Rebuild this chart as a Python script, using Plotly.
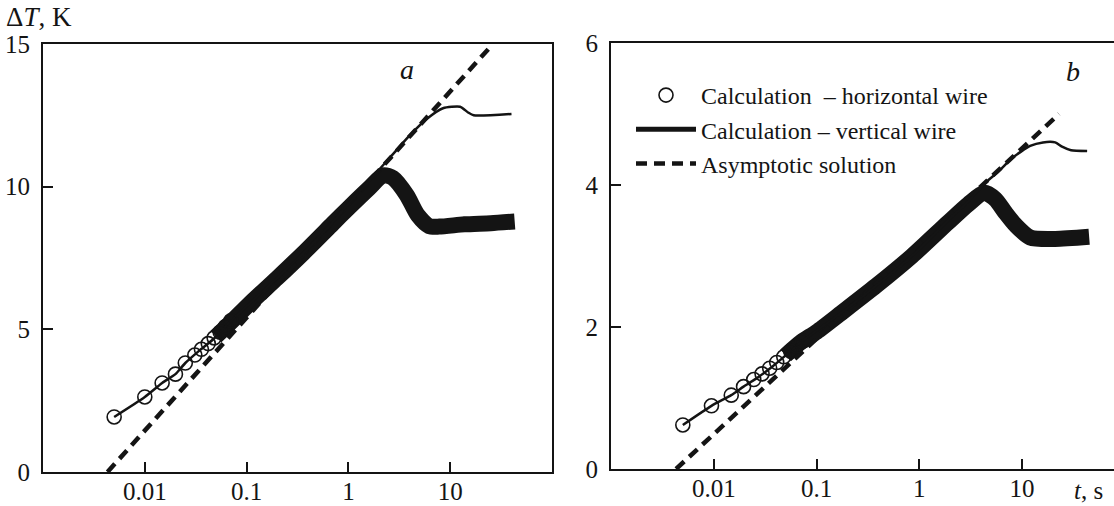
import plotly.graph_objects as go

# ---------------- Panel a ----------------
a_circ_t = [0.005, 0.01, 0.0148, 0.02, 0.025, 0.031, 0.036, 0.042, 0.048, 0.055, 0.062, 0.07]
a_circ_T = [1.93, 2.63, 3.12, 3.43, 3.82, 4.1, 4.3, 4.5, 4.7, 4.9, 5.1, 5.3]
a_hor_t = [0.005, 0.01, 0.0148, 0.02, 0.025, 0.035, 0.048, 0.068, 0.107, 0.2, 0.36,
           0.7, 1.0, 1.6, 2.2, 3.0, 4.0, 6.0, 8.5, 12.5, 15.0, 17.0, 40.0]
a_hor_T = [1.93, 2.63, 3.12, 3.43, 3.82, 4.28, 4.68, 5.25, 5.9, 6.8, 7.67,
           8.75, 9.4, 10.2, 10.76, 11.3, 11.8, 12.4, 12.75, 12.8, 12.6, 12.5, 12.55]
a_ver_t = [0.05, 0.068, 0.107, 0.2, 0.36, 0.7, 1.0, 1.6, 2.2, 2.75, 3.75, 4.8,
           6.2, 7.8, 13.8, 25.0, 43.0]
a_ver_T = [4.75, 5.2, 5.9, 6.8, 7.67, 8.7, 9.25, 9.95, 10.4, 10.3, 9.7, 9.0,
           8.62, 8.6, 8.68, 8.72, 8.78]
a_asy_t = [0.0043, 26.3]
a_asy_T = [0.0, 15.0]

# ---------------- Panel b ----------------
b_circ_t = [0.005, 0.0095, 0.0148, 0.0195, 0.0245, 0.0295, 0.035, 0.041, 0.048, 0.056, 0.064, 0.073]
b_circ_T = [0.62, 0.89, 1.04, 1.16, 1.26, 1.34, 1.42, 1.5, 1.58, 1.66, 1.73, 1.8]
b_hor_t = [0.005, 0.0095, 0.0148, 0.0195, 0.0275, 0.037, 0.051, 0.071, 0.175, 0.38,
           0.85, 1.9, 3.0, 4.3, 6.0, 8.0, 12.0, 16.0, 21.0, 24.5, 30.0, 43.0]
b_hor_T = [0.62, 0.89, 1.04, 1.16, 1.30, 1.44, 1.61, 1.79, 2.2, 2.58,
           3.0, 3.5, 3.77, 4.02, 4.2, 4.38, 4.55, 4.6, 4.6, 4.54, 4.49, 4.48]
b_ver_t = [0.05, 0.071, 0.1, 0.175, 0.38, 0.85, 1.9, 3.0, 4.3, 5.5, 6.8, 8.7,
           12.0, 21.0, 45.0]
b_ver_T = [1.6, 1.79, 1.93, 2.2, 2.58, 3.0, 3.47, 3.73, 3.89, 3.8, 3.62, 3.43,
           3.26, 3.24, 3.27]
b_asy_t = [0.0043, 22.9]
b_asy_T = [0.0, 5.0]

x_tickvals = [0.01, 0.1, 1, 10]
x_ticktext = ["0.01", "0.1", "1", "10"]
a_yticks = [0, 5, 10, 15]
b_yticks = [0, 2, 4, 6]

names = ["Calculation  \u2013 horizontal wire", "Calculation \u2013 vertical wire", "Asymptotic solution"]

INK = "#141414"
FONT = "Liberation Serif, Times New Roman, serif"
W, H = 1114, 506
DASH = "11px,7px"

fig = go.Figure()


def add_panel(xa, ya, circ_t, circ_T, hor_t, hor_T, ver_t, ver_T, asy_t, asy_T, legend):
    # thick band (vertical wire)
    fig.add_trace(go.Scatter(x=ver_t, y=ver_T, mode="lines", xaxis=xa, yaxis=ya,
                             line=dict(color=INK, width=16, shape="spline", smoothing=0.7),
                             name=names[1], legendgroup="g2", showlegend=False))
    # asymptotic solution
    fig.add_trace(go.Scatter(x=asy_t, y=asy_T, mode="lines", xaxis=xa, yaxis=ya,
                             line=dict(color=INK, width=4.5, dash=DASH), name=names[2],
                             legendgroup="g3", showlegend=False))
    # thin line (horizontal wire)
    fig.add_trace(go.Scatter(x=hor_t, y=hor_T, mode="lines", xaxis=xa, yaxis=ya,
                             line=dict(color=INK, width=2.5, shape="spline", smoothing=0.6),
                             name=names[0], legendgroup="g1", showlegend=False))
    # circles (horizontal wire)
    fig.add_trace(go.Scatter(x=circ_t, y=circ_T, mode="markers", xaxis=xa, yaxis=ya,
                             marker=dict(symbol="circle-open", size=14, color=INK,
                                         line=dict(width=1.6, color=INK)),
                             name=names[0], legendgroup="g1", showlegend=False))
    if legend:
        fig.add_trace(go.Scatter(x=[None], y=[None], mode="markers", xaxis=xa, yaxis=ya,
                                 marker=dict(symbol="circle-open", size=14, color=INK,
                                             line=dict(width=1.6, color=INK)),
                                 name=names[0], legendgroup="g1", legendrank=1))
        fig.add_trace(go.Scatter(x=[None], y=[None], mode="lines", xaxis=xa, yaxis=ya,
                                 line=dict(color=INK, width=5), name=names[1],
                                 legendgroup="g2", legendrank=2))
        fig.add_trace(go.Scatter(x=[None], y=[None], mode="lines", xaxis=xa, yaxis=ya,
                                 line=dict(color=INK, width=4.5, dash=DASH), name=names[2],
                                 legendgroup="g3", legendrank=3))


add_panel("x", "y", a_circ_t, a_circ_T, a_hor_t, a_hor_T, a_ver_t, a_ver_T, a_asy_t, a_asy_T, False)
add_panel("x2", "y2", b_circ_t, b_circ_T, b_hor_t, b_hor_T, b_ver_t, b_ver_T, b_asy_t, b_asy_T, True)


def axis_common():
    return dict(showgrid=False, zeroline=False, showline=True, linecolor=INK, linewidth=2,
                ticks="inside", tickcolor=INK, tickwidth=1.6, ticklen=10, automargin=False,
                tickfont=dict(family=FONT, size=25, color=INK))


fig.update_layout(
    template="none",
    width=W, height=H,
    margin=dict(l=0, r=0, t=0, b=0, pad=0),
    paper_bgcolor="white", plot_bgcolor="white",
    showlegend=True,
    legend=dict(x=631 / W, y=(H - 73) / H, xanchor="left", yanchor="top",
                bgcolor="rgba(0,0,0,0)", font=dict(family=FONT, size=24, color=INK),
                tracegroupgap=0, itemwidth=60),
    xaxis=dict(type="log", range=[-3, 2], domain=[43 / W, 552 / W], anchor="y",
               mirror=True, tickvals=x_tickvals, ticktext=x_ticktext,
               ticklabelstandoff=-4, **axis_common()),
    yaxis=dict(range=[0, 15], domain=[(H - 472) / H, (H - 44) / H], anchor="x",
               mirror=True, tickvals=a_yticks, ticklabelstandoff=6, **axis_common()),
    xaxis2=dict(type="log", range=[-3, 1.895], domain=[611 / W, 1.0], anchor="y2",
                mirror=True, tickvals=x_tickvals, ticktext=x_ticktext,
                ticklabelstandoff=-4, **axis_common()),
    yaxis2=dict(range=[0, 6], domain=[(H - 469) / H, (H - 43) / H], anchor="x2",
                mirror=False, tickvals=b_yticks, ticklabelstandoff=6, **axis_common()),
    annotations=[
        dict(text="\u0394<i>T</i>, K", x=4 / W, y=1.0, xref="paper", yref="paper",
             xanchor="left", yanchor="top", showarrow=False,
             font=dict(family=FONT, size=27, color=INK)),
        dict(text="<i>a</i>", x=407 / W, y=(H - 70) / H, xref="paper", yref="paper",
             xanchor="center", yanchor="middle", showarrow=False,
             font=dict(family=FONT, size=28, color=INK)),
        dict(text="<i>b</i>", x=1073 / W, y=(H - 72) / H, xref="paper", yref="paper",
             xanchor="center", yanchor="middle", showarrow=False,
             font=dict(family=FONT, size=28, color=INK)),
        dict(text="<i>t</i>, s", x=1088 / W, y=0.0, xref="paper", yref="paper",
             xanchor="center", yanchor="bottom", showarrow=False,
             font=dict(family=FONT, size=25, color=INK)),
    ],
)

fig.write_html("out.html")
